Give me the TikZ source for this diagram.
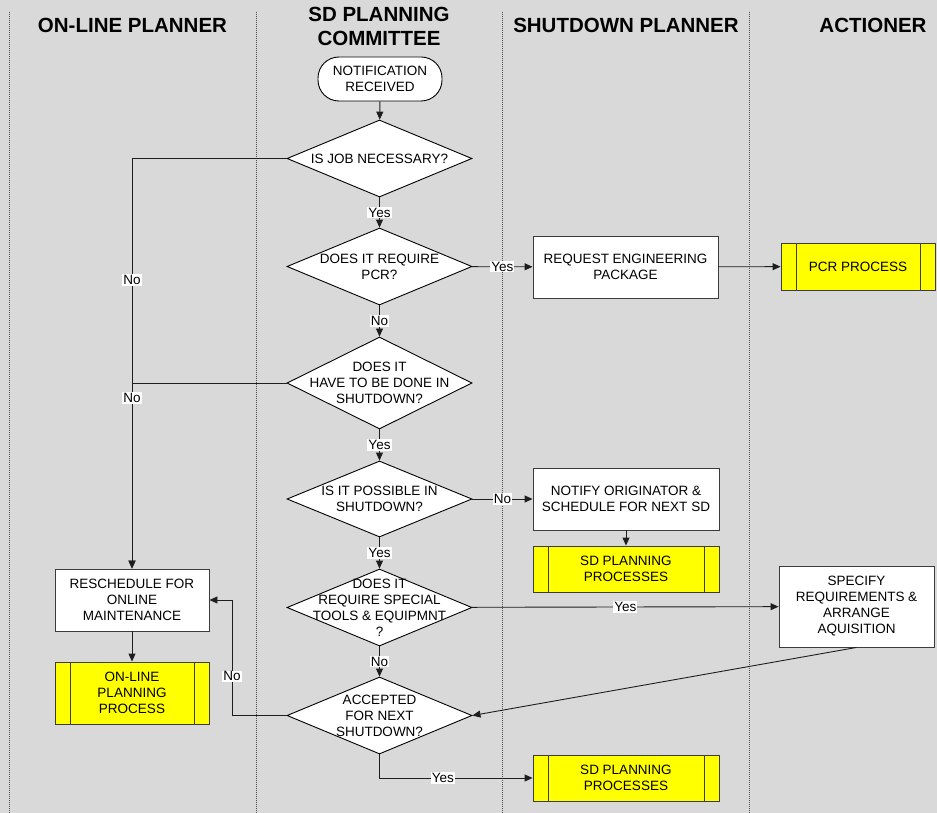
\documentclass[tikz,border=0pt]{standalone}
\usepackage{fontspec}
\setmainfont{Liberation Sans}
\usetikzlibrary{shapes.geometric,arrows.meta,calc}
\definecolor{lanebg}{RGB}{217,217,217}
\definecolor{procyellow}{RGB}{255,255,0}
\definecolor{edgegray}{RGB}{30,30,30}
\definecolor{boxgray}{RGB}{60,60,60}

\begin{document}
\begin{tikzpicture}[x=1pt,y=-1pt,
  every node/.style={font=\fontsize{13.5}{16}\selectfont, text=black},
  header/.style={font=\fontsize{20.5}{24}\selectfont\bfseries, align=center, inner sep=0pt},
  lanesep/.style={draw=black!70, line width=0.6pt, dash pattern=on 1pt off 1pt},
  terminal/.style={draw=black, fill=white, line width=0.9pt, rounded corners=21pt,
    minimum width=124pt, minimum height=44pt, inner sep=0pt, align=center},
  decision/.style={diamond, draw=black, fill=white, line width=0.9pt, inner sep=0pt,
    minimum width=185pt, minimum height=77pt},
  dtext/.style={align=center, inner sep=0pt},
  procbox/.style={draw=boxgray, fill=white, line width=0.9pt, inner sep=0pt, align=center},
  predef/.style={draw=boxgray, fill=procyellow, line width=0.9pt, inner sep=0pt, align=center,
    path picture={\draw[boxgray, line width=0.9pt]
      ([xshift=15pt]path picture bounding box.north west) -- ([xshift=15pt]path picture bounding box.south west)
      ([xshift=-15pt]path picture bounding box.north east) -- ([xshift=-15pt]path picture bounding box.south east);}},
  conn/.style={draw=edgegray, line width=0.9pt},
  arr/.style={conn, -{Triangle[length=8pt,width=7pt]}},
  lbl/.style={fill=white, inner sep=1pt}
]

% background and swim-lane separators
\fill[lanebg] (0,0) rectangle (937,813);
\useasboundingbox (0,0) rectangle (937,813);
\foreach \lx in {9,256,502,749} {\draw[lanesep] (\lx,12) -- (\lx,813);}

% lane headings
\node[header] (hOnline) at (132.5,25.5) {ON-LINE PLANNER};
\node[header] (hCommittee) at (379,26) {SD PLANNING\\COMMITTEE};
\node[header] (hShutdown) at (626,25.5) {SHUTDOWN PLANNER};
\node[header] (hActioner) at (873,25.5) {ACTIONER};

% flow nodes
\node[terminal] (start) at (380,79) {NOTIFICATION\\RECEIVED};
\node[decision, label={[dtext]center:IS JOB NECESSARY?}] (d1) at (379.5,158.5) {};
\node[decision, label={[dtext]center:DOES IT REQUIRE\\PCR?}] (d2) at (379.5,266.5) {};
\node[decision, minimum height=92pt, label={[dtext]center:DOES IT\\HAVE TO BE DONE IN\\SHUTDOWN?}] (d3) at (379.5,383) {};
\node[decision, minimum height=76pt, label={[dtext]center:IS IT POSSIBLE IN\\SHUTDOWN?}] (d4) at (379.5,499) {};
\node[decision, label={[dtext]center:DOES IT\\REQUIRE SPECIAL\\TOOLS \& EQUIPMNT\\?}] (d5) at (379.5,607.5) {};
\node[decision, label={[dtext]center:ACCEPTED\\FOR NEXT\\SHUTDOWN?}] (d6) at (379.5,715.5) {};

\node[procbox, minimum width=185pt, minimum height=62pt] (req) at (625.5,267) {REQUEST ENGINEERING\\PACKAGE};
\node[predef, minimum width=154pt, minimum height=47pt] (pcr) at (858,266.5) {PCR PROCESS};
\node[procbox, minimum width=186pt, minimum height=62pt] (notify) at (626,499) {NOTIFY ORIGINATOR \&\\SCHEDULE FOR NEXT SD};
\node[predef, minimum width=186pt, minimum height=46pt] (sdp1) at (626,569) {SD PLANNING\\PROCESSES};
\node[procbox, minimum width=155pt, minimum height=81pt] (spec) at (856.5,606.5) {SPECIFY\\REQUIREMENTS \&\\ARRANGE\\AQUISITION};
\node[procbox, minimum width=154pt, minimum height=62pt] (resched) at (132,600) {RESCHEDULE FOR\\ONLINE\\MAINTENANCE};
\node[predef, minimum width=154pt, minimum height=62pt] (online) at (132,693) {ON-LINE\\PLANNING\\PROCESS};
\node[predef, minimum width=186pt, minimum height=46pt] (sdp2) at (626,778) {SD PLANNING\\PROCESSES};

\coordinate (backX) at (232,0);

% connectors
\draw[arr] (start) -- (d1);
\draw[arr] (d1) -- node[lbl] (l1) {Yes} (d2);
\draw[arr] (d2) -- node[lbl] (l2) {Yes} (req);
\draw[arr] (req) -- (pcr);
\draw[arr] (d2) -- node[lbl] (l3) {No} (d3);
\draw[arr] (d1.west) -| node[lbl, pos=0.648] (l4) {No} (resched.north);
\draw[arr] (d3.west) -| node[lbl, pos=0.54] (l5) {No} (resched.north);
\draw[arr] (d3) -- node[lbl] (l6) {Yes} (d4);
\draw[arr] (d4) -- node[lbl] (l7) {No} (notify);
\draw[arr] (notify) -- (sdp1);
\draw[arr] (d4) -- node[lbl] (l8) {Yes} (d5);
\draw[arr] (d5) -- node[lbl] (l9) {Yes} (spec);
\draw[arr] (d5) -- node[lbl] (l10) {No} (d6);
\draw[arr] (spec.south) -- (d6.east);
\draw[arr] (d6.west) -- (d6.west -| backX) |- node[lbl, pos=0.17] (l11) {No} (resched.east);
\draw[arr] (d6.south) |- node[lbl, pos=0.707] (l12) {Yes} (sdp2.west);
\draw[arr] (resched) -- (online);

\end{tikzpicture}
\end{document}
